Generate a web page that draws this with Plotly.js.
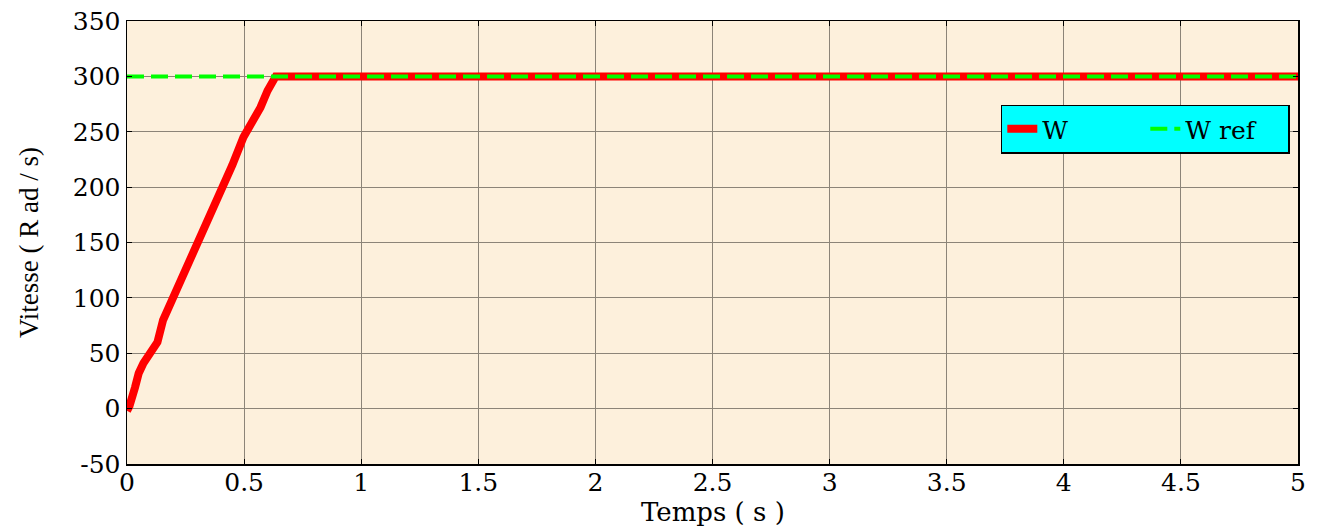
<!DOCTYPE html>
<html>
<head>
<meta charset="utf-8">
<script src="https://cdn.plot.ly/plotly-3.0.1.min.js"></script>
<style>html,body{margin:0;padding:0;background:#fff;}#chart{width:1319px;height:526px;}</style>
</head>
<body>
<div id="chart"></div>
<script>
// Measured speed W (rad/s) vs time (s)
const timeW = [0, 0.01, 0.034, 0.05, 0.07, 0.09, 0.11, 0.13, 0.154, 0.175, 0.197, 0.225, 0.256, 0.31, 0.35, 0.40, 0.45, 0.497, 0.54, 0.57, 0.60, 0.62, 0.635, 1, 2, 3, 4, 5];
const speedW = [-2, 2, 19, 32, 41, 47, 52, 60, 80, 90, 97, 110, 125, 152, 172, 194, 220, 245, 260, 272, 287, 296, 300, 300, 300, 300, 300, 300];
// Reference speed
const timeRef = [0, 5];
const speedRef = [300, 300];
// Tick labels
const xTickVals = [0, 0.5, 1, 1.5, 2, 2.5, 3, 3.5, 4, 4.5, 5];
const xTickText = ["0", "0.5", "1", "1.5", "2", "2.5", "3", "3.5", "4", "4.5", "5"];
const yTickVals = [-50, 0, 50, 100, 150, 200, 250, 300, 350];
const yTickText = ["-50", "0", "50", "100", "150", "200", "250", "300", "350"];
const xTitle = "Temps ( s )";
const yTitle = "Vitesse ( R ad / s)";

const wideFont = "DejaVu Serif, serif";
const tallFont = "Liberation Serif, Times New Roman, serif";

const traces = [
  {x: timeW, y: speedW, name: "W", mode: "lines", line: {color: "#ff0000", width: 8}},
  {x: timeRef, y: speedRef, name: "W ref", mode: "lines", line: {color: "#00ff00", width: 4, dash: "17px,7px"}}
];

const axisCommon = {
  showline: true, linecolor: "#000", linewidth: 1.5, mirror: "allticks",
  ticks: "inside", ticklen: 5, tickcolor: "#000", tickwidth: 1,
  showgrid: true, gridcolor: "#8c8478", gridwidth: 1, zeroline: false,
  tickfont: {family: wideFont, size: 25, color: "#000"}
};

const layout = {
  width: 1319, height: 526,
  margin: {l: 127, r: 21, t: 21, b: 62},
  paper_bgcolor: "#ffffff",
  plot_bgcolor: "#fdf0dc",
  showlegend: true,
  legend: {
    orientation: "h", x: 0.993, xanchor: "right", y: 0.756, yanchor: "middle",
    bgcolor: "#00ffff", bordercolor: "#000", borderwidth: 1.5,
    entrywidth: 98, entrywidthmode: "pixels",
    font: {family: wideFont, size: 25, color: "#000"}
  },
  xaxis: Object.assign({}, axisCommon, {
    range: [0, 5], tickmode: "array", tickvals: xTickVals, ticktext: xTickText,
    ticklabelstandoff: -5
  }),
  yaxis: Object.assign({}, axisCommon, {
    range: [-50, 350], tickmode: "array", tickvals: yTickVals, ticktext: yTickText,
    title: {text: yTitle, font: {family: tallFont, size: 27, color: "#000"}, standoff: 26}
  }),
  annotations: [{
    text: xTitle, xref: "paper", yref: "paper", x: 0.5, y: 0,
    xanchor: "center", yanchor: "top", yshift: -31, showarrow: false,
    font: {family: wideFont, size: 26, color: "#000"}
  }]
};

Plotly.newPlot("chart", traces, layout, {displayModeBar: false, staticPlot: true});
</script>
</body>
</html>
